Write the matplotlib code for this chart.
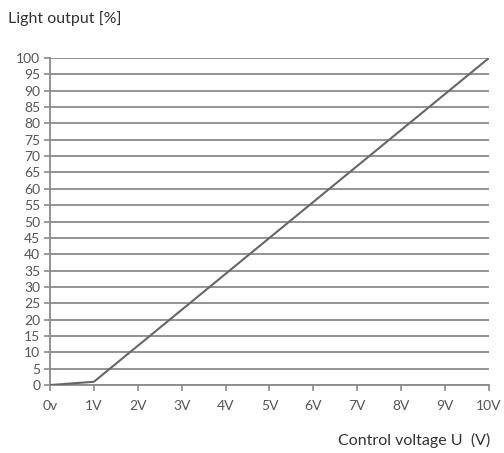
import numpy as np
import matplotlib
matplotlib.use("Agg")
import matplotlib.pyplot as plt

# control voltage (V) and light output (%)
voltage = [0, 1, 10]
light = [0, 1, 100]
x_ticks = list(range(0, 11))
x_labels = ["0v"] + ["%dV" % v for v in range(1, 11)]
y_ticks = list(range(0, 101, 5))

plt.rcParams['font.family'] = ['Lato', 'DejaVu Sans']

fig = plt.figure(figsize=(5.04, 4.53), dpi=100)
ax = fig.add_axes([0.0992, 0.150, 0.871, 0.722])

for y in y_ticks:
    ax.axhline(y, color="#8a8a8a", lw=1.3, zorder=1)
ax.plot(voltage, light, color="#666666", lw=1.5, zorder=3)

ax.set_xlim(0, 10)
ax.set_ylim(0, 100)
ax.set_xticks(x_ticks)
ax.set_xticklabels(x_labels)
ax.set_yticks(y_ticks)
ax.tick_params(axis="both", colors="#8a8a8a", labelcolor="#555555", labelsize=10,
               length=4, width=1.2, direction="out")
ax.tick_params(axis="x", pad=7)
ax.tick_params(axis="y", pad=3)

for s in ["top", "right"]:
    ax.spines[s].set_visible(False)
for s in ["left", "bottom"]:
    ax.spines[s].set_color("#8a8a8a")
    ax.spines[s].set_linewidth(1.3)

fig.text(0.016, 0.96, "Light output [%]", fontsize=11.5, color="#333333", va="center", ha="left")
fig.text(0.972, 0.028, "Control voltage U  (V)", fontsize=11.5, color="#333333", va="center", ha="right")

fig.savefig("out.png", dpi=100)
